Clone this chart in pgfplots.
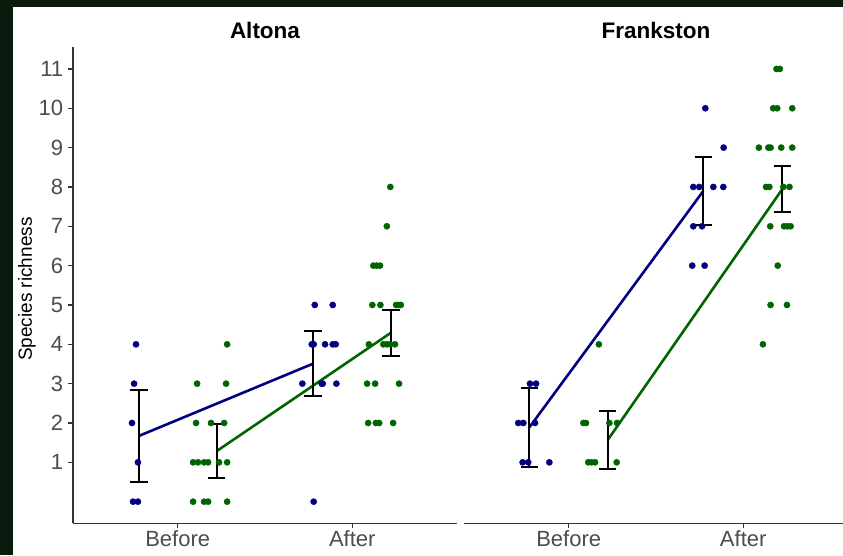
\documentclass[border=0pt]{standalone}
\usepackage{pgfplots}
\pgfplotsset{compat=1.18}
\usepackage{fontspec}
\setmainfont{Liberation Sans}
\definecolor{bordercol}{RGB}{10,26,12}
\definecolor{bluepts}{RGB}{0,0,128}
\definecolor{greenpts}{RGB}{0,100,0}
\definecolor{axgrey}{RGB}{51,51,51}
\definecolor{txtgrey}{RGB}{77,77,77}

% ---------- data (x in category units: Before=1, After=2) ----------
\pgfplotstableread{
x y
0.761 4
0.750 3
0.738 2
0.772 1
0.744 0
0.772 0
1.785 5
1.888 5
1.768 4
1.779 4
1.844 4
1.888 4
1.905 4
1.714 3
1.825 3
1.831 3
1.909 3
1.779 0
}\AltBlue
\pgfplotstableread{
x y
1.283 4
1.111 3
1.277 3
1.105 2
1.191 2
1.266 2
1.088 1
1.116 1
1.151 1
1.174 1
1.237 1
1.283 1
1.088 0
1.151 0
1.174 0
1.283 0
2.218 8
2.198 7
2.121 6
2.140 6
2.159 6
2.115 5
2.161 5
2.251 5
2.264 5
2.278 5
2.095 4
2.178 4
2.198 4
2.217 4
2.245 4
2.085 3
2.131 3
2.268 3
2.091 2
2.135 2
2.154 2
2.234 2
}\AltGreen
\pgfplotstableread{
x y
0.778 3
0.813 3
0.711 2
0.740 2
0.807 2
0.736 1
0.768 1
0.889 1
1.783 10
1.888 9
1.714 8
1.748 8
1.829 8
1.886 8
1.714 7
1.764 7
1.708 6
1.779 6
}\FraBlue
\pgfplotstableread{
x y
1.173 4
1.084 2
1.099 2
1.233 2
1.277 2
1.112 1
1.131 1
1.151 1
1.275 1
2.191 11
2.210 11
2.172 10
2.195 10
2.281 10
2.090 9
2.144 9
2.157 9
2.218 9
2.281 9
2.131 8
2.150 8
2.230 8
2.265 8
2.155 7
2.234 7
2.253 7
2.272 7
2.198 6
2.157 5
2.251 5
2.113 4
}\FraGreen

\pgfplotsset{
  panel/.style={
    scale only axis, height=476pt,
    ymin=-0.55, ymax=11.55, xmin=0.4,
    xtick={1,2}, xticklabels={Before,After},
    axis line style={-, draw=axgrey, line width=1.2pt},
    tick style={draw=axgrey, line width=1.2pt},
    tick align=outside, major tick length=5pt,
    ticklabel style={font=\fontsize{22}{26}\selectfont, text=txtgrey, inner sep=0pt},
    xticklabel style={anchor=base, yshift=-18.6pt},
    yticklabel style={anchor=east, xshift=-4.7pt},
    /pgf/number format/assume math mode=true,
    title style={font=\bfseries\fontsize{22.5}{27}\selectfont, anchor=base, inner sep=0pt, yshift=2.5pt},
    clip=false,
  },
  pts/.style={only marks, mark=*, mark size=3.1pt, mark options={draw=#1, fill=#1}},
  fitline/.style={#1, line width=2.6pt, mark=none},
  ebar/.style={draw=none, mark=none,
    error bars/.cd, y dir=both, y explicit,
    error bar style={draw=black, line width=2pt},
    error mark options={draw=black, line width=2pt, rotate=90, mark size=8.7pt}},
}

\begin{document}
\begin{tikzpicture}
\fill[bordercol] (0pt,0pt) rectangle (843pt,555pt);
\fill[white] (13pt,0pt) rectangle (843pt,548pt);

% ---------------- Altona ----------------
\begin{axis}[panel, at={(73pt,31.7pt)}, anchor=south west,
  width=384pt, xmax=2.6,
  axis x line*=bottom, axis y line*=left,
  ytick={1,2,3,4,5,6,7,8,9,10,11},
  title={Altona}, title style={at={(0.5,1)}},
  ylabel={Species richness},
  ylabel style={font=\fontsize{19}{23}\selectfont, text=black,
    at={(axis description cs:-0.1198,0.492)}, anchor=center, inner sep=0pt},
]
\addplot[pts=bluepts] table {\AltBlue};
\addplot[pts=greenpts] table {\AltGreen};
\addplot[fitline=bluepts] coordinates {(0.777,1.67) (1.774,3.505)};
\addplot[fitline=greenpts] coordinates {(1.223,1.285) (2.222,4.295)};
\addplot[ebar] coordinates {
  (0.777,1.67) +- (0,1.17)
  (1.223,1.285) +- (0,0.685)
  (1.774,3.505) +- (0,0.825)
  (2.222,4.295) +- (0,0.585)
};
\end{axis}

% ---------------- Frankston ----------------
\begin{axis}[panel, at={(464pt,31.7pt)}, anchor=south west,
  width=379pt, xmax=2.572,
  axis x line*=bottom, axis y line=none, ytick=\empty,
  title={Frankston}, title style={at={(0.5066,1)}},
]
\addplot[pts=bluepts] table {\FraBlue};
\addplot[pts=greenpts] table {\FraGreen};
\addplot[fitline=bluepts] coordinates {(0.774,1.885) (1.771,7.895)};
\addplot[fitline=greenpts] coordinates {(1.224,1.57) (2.225,7.95)};
\addplot[ebar] coordinates {
  (0.774,1.885) +- (0,1.005)
  (1.224,1.57) +- (0,0.73)
  (1.771,7.895) +- (0,0.855)
  (2.225,7.95) +- (0,0.58)
};
\end{axis}

\pgfresetboundingbox
\path (0pt,0pt) rectangle (843pt,555pt);
\end{tikzpicture}
\end{document}
